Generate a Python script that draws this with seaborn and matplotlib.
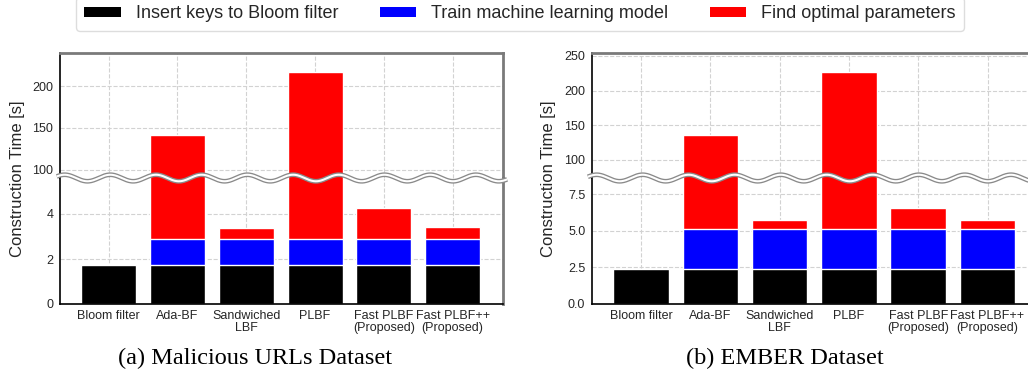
import matplotlib
matplotlib.use("Agg")
import numpy as np
import pandas as pd
import matplotlib.pyplot as plt
import seaborn as sns
from matplotlib.patches import Patch

# Methods compared on the x axis
methods = ["Bloom filter", "Ada-BF", "Sandwiched\nLBF", "PLBF",
           "Fast PLBF\n(Proposed)", "Fast PLBF++\n(Proposed)"]

# Construction time breakdown [s], Malicious URLs dataset
url_insert = [1.75, 1.75, 1.75, 1.75, 1.75, 1.75]
url_train = [0.0, 1.12, 1.12, 1.12, 1.12, 1.12]
url_search = [0.0, 139.2, 0.51, 214.3, 1.40, 0.55]

# Construction time breakdown [s], EMBER dataset
ember_insert = [2.37, 2.37, 2.37, 2.37, 2.37, 2.37]
ember_train = [0.0, 2.76, 2.76, 2.76, 2.76, 2.76]
ember_search = [0.0, 130.5, 0.57, 221.3, 1.44, 0.62]

stage_labels = ["Insert keys to Bloom filter", "Train machine learning model",
                "Find optimal parameters"]
stage_colors = ["black", "blue", "red"]

captions = ["(a) Malicious URLs Dataset", "(b) EMBER Dataset"]

sns.set_theme(style="whitegrid")
plt.rcParams["font.family"] = ["Liberation Sans", "DejaVu Sans"]
plt.rcParams["grid.linestyle"] = "--"
plt.rcParams["grid.color"] = "#d2d2d2"
plt.rcParams["grid.linewidth"] = 0.8

fig = plt.figure(figsize=(10.28, 3.79), dpi=100)

W, H = 1028.0, 379.0


def px_axes(left, top, width, height):
    return fig.add_axes([left / W, 1 - (top + height) / H, width / W, height / H])


def draw_stack(ax, insert, train, search):
    df = pd.DataFrame({"method": methods,
                       "insert": insert, "train": train, "search": search})
    df["mid"] = df["insert"] + df["train"]
    df["total"] = df["mid"] + df["search"]
    for col, color in zip(["total", "mid", "insert"], stage_colors[::-1]):
        sns.barplot(data=df, x="method", y=col, order=methods, color=color,
                    saturation=1, width=0.8, edgecolor="white", linewidth=1.0,
                    ax=ax, zorder=2)
    ax.set_xlim(-0.703, 5.727)
    ax.set_xlabel("")
    ax.set_ylabel("")


def style_axes(ax_top, ax_bot):
    for ax in (ax_top, ax_bot):
        ax.set_axisbelow(True)
        ax.grid(True, axis="both")
        ax.spines["left"].set_color("black")
        ax.spines["left"].set_linewidth(1.2)
        ax.spines["right"].set_color("#7a7a7a")
        ax.spines["right"].set_linewidth(2.0)
        ax.tick_params(axis="y", labelsize=9, length=0, pad=5, colors="#262626")
        ax.tick_params(axis="x", labelsize=9, length=0, pad=4, colors="#262626")
    ax_top.spines["top"].set_color("#7a7a7a")
    ax_top.spines["top"].set_linewidth(2.0)
    ax_top.spines["bottom"].set_visible(False)
    ax_top.tick_params(axis="x", labelbottom=False)
    ax_bot.spines["top"].set_visible(False)
    ax_bot.spines["bottom"].set_color("black")
    ax_bot.spines["bottom"].set_linewidth(1.2)


def draw_break(ax, x0, x1):
    # wavy break mark across the seam between the two y ranges
    x = np.linspace(x0, x1, 800)
    y = 1 + 0.026 * np.cos(2 * np.pi * (x - 0.113) / 0.1033)
    ax.plot(x, y, transform=ax.transAxes, color="#8a8a8a", lw=3.4,
            clip_on=False, zorder=10, solid_capstyle="butt")
    ax.plot(x, y, transform=ax.transAxes, color="white", lw=1.5,
            clip_on=False, zorder=11, solid_capstyle="butt")


panels = [
    dict(left=60.3, width=442.4, insert=url_insert, train=url_train, search=url_search,
         top_lim=(90, 240), top_ticks=[100, 150, 200],
         bot_lim=(0, 5.6), bot_ticks=[0, 2, 4], label_x=18, caption_x=255,
         brk=(-0.008, 1.01)),
    dict(left=592.3, width=445.6, insert=ember_insert, train=ember_train, search=ember_search,
         top_lim=(74, 254), top_ticks=[100, 150, 200, 250],
         bot_lim=(0, 8.6), bot_ticks=[0, 2.5, 5.0, 7.5], label_x=549, caption_x=785,
         brk=(-0.01, 1.01)),
]

top_px, seam_px, bottom_px = 53.0, 178.0, 304.0

for i, p in enumerate(panels):
    ax_top = px_axes(p["left"], top_px, p["width"], seam_px - top_px)
    ax_bot = px_axes(p["left"], seam_px, p["width"], bottom_px - seam_px)
    for ax in (ax_top, ax_bot):
        draw_stack(ax, p["insert"], p["train"], p["search"])
    ax_top.set_ylim(*p["top_lim"])
    ax_top.set_yticks(p["top_ticks"])
    ax_bot.set_ylim(*p["bot_lim"])
    ax_bot.set_yticks(p["bot_ticks"])
    style_axes(ax_top, ax_bot)
    ax_bot.set_xticks(range(len(methods)))
    ax_bot.set_xticklabels(methods, linespacing=1.1)
    draw_break(ax_bot, *p["brk"])

    fig.text(p["label_x"] / W, 1 - (top_px + bottom_px) / 2 / H,
             "Construction Time [s]", rotation=90, ha="center", va="center",
             fontsize=12, color="#262626")
    fig.text(p["caption_x"] / W, 1 - 358 / H, captions[i],
             family=["Liberation Serif", "DejaVu Serif"], fontsize=17.5,
             ha="center", va="center", color="black")

handles = [Patch(facecolor=c, edgecolor="none", label=l)
           for c, l in zip(stage_colors, stage_labels)]
fig.legend(handles=handles, loc="center", bbox_to_anchor=(0.506, 1 - 14 / H),
           ncol=3, fontsize=13, frameon=True, handlelength=2.0, handleheight=0.45,
           handletextpad=0.85, columnspacing=2.3, borderpad=0.45, borderaxespad=0,
           edgecolor="#d5d5d5", fancybox=True)

fig.savefig("out.png", dpi=100)
